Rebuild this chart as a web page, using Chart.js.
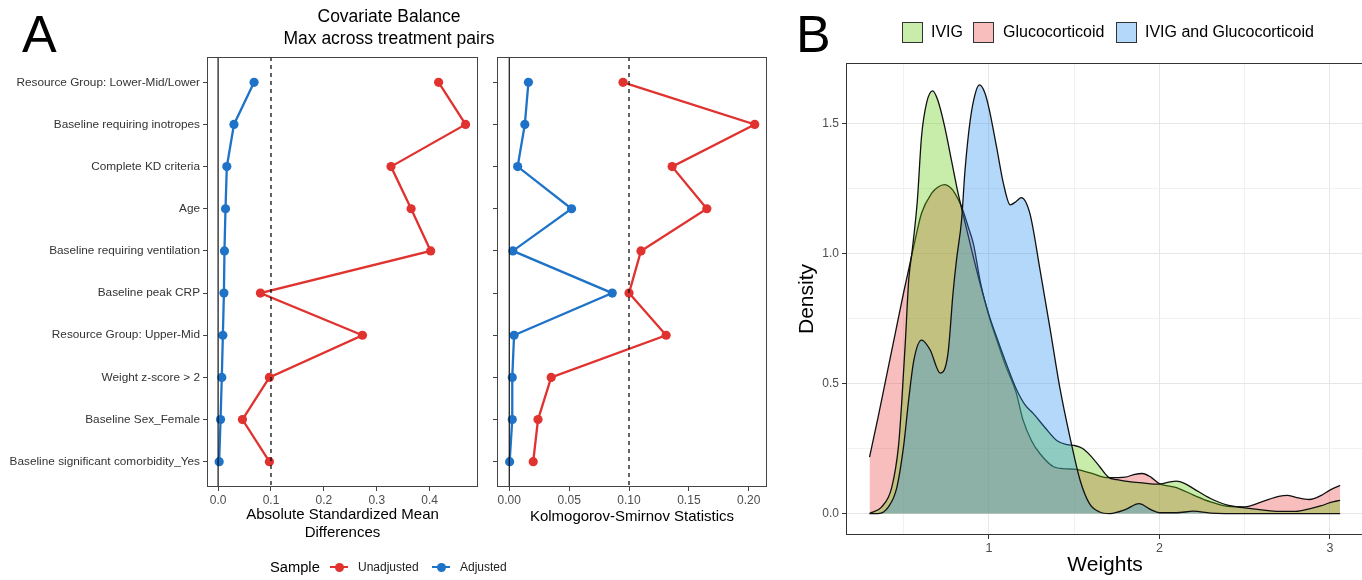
<!DOCTYPE html>
<html>
<head>
<meta charset="utf-8">
<script src="https://cdn.jsdelivr.net/npm/chart.js@4.4.1/dist/chart.umd.min.js"></script>
<style>
html, body { margin: 0; padding: 0; background: #fff; width: 1362px; height: 580px; overflow: hidden; font-family: 'Liberation Sans', Arial, sans-serif; }
canvas { position: absolute; top: 0; }
.t { position: absolute; white-space: nowrap; color: #000; }
.mk { position: absolute; }
</style>
</head>
<body>
<canvas id="smd" width="490" height="580" style="left:0px"></canvas>
<canvas id="ks" width="290" height="580" style="left:485px"></canvas>
<canvas id="dens" width="575" height="580" style="left:795px"></canvas>

<div class="t" style="left:22px;top:8px;font-size:52px;line-height:52px">A</div>
<div class="t" style="left:796px;top:8px;font-size:52px;line-height:52px">B</div>
<div class="t" style="left:259px;top:5px;width:260px;text-align:center;font-size:17.5px;line-height:22px">Covariate Balance<br>Max across treatment pairs</div>

<!-- legend A -->
<div class="t" style="left:270px;top:557px;font-size:14.7px;line-height:20px">Sample</div>
<div class="mk" style="left:330px;top:566px;width:18px;height:2px;background:#e0322f"></div>
<div class="mk" style="left:334.5px;top:562.5px;width:9px;height:9px;border-radius:50%;background:#e0322f"></div>
<div class="t" style="left:358px;top:557px;font-size:12px;line-height:20px;color:#222">Unadjusted</div>
<div class="mk" style="left:432px;top:566px;width:18px;height:2px;background:#1e73c8"></div>
<div class="mk" style="left:436.5px;top:562.5px;width:9px;height:9px;border-radius:50%;background:#1e73c8"></div>
<div class="t" style="left:460px;top:557px;font-size:12px;line-height:20px;color:#222">Adjusted</div>

<!-- legend B -->
<div class="mk" id="lb0" style="left:902px;top:22px;width:19px;height:19px;border:1px solid #333"></div>
<div class="t" style="left:931px;top:21px;font-size:16px;line-height:22px">IVIG</div>
<div class="mk" id="lb1" style="left:973px;top:22px;width:19px;height:19px;border:1px solid #333"></div>
<div class="t" style="left:1003px;top:21px;font-size:16px;line-height:22px">Glucocorticoid</div>
<div class="mk" id="lb2" style="left:1116px;top:22px;width:19px;height:19px;border:1px solid #333"></div>
<div class="t" style="left:1145px;top:21px;font-size:16px;line-height:22px">IVIG and Glucocorticoid</div>

<script>
// ---- panel A data (top to bottom) ----
const categories = [
    'Resource Group: Lower-Mid/Lower',
    'Baseline requiring inotropes',
    'Complete KD criteria',
    'Age',
    'Baseline requiring ventilation',
    'Baseline peak CRP',
    'Resource Group: Upper-Mid',
    'Weight z-score > 2',
    'Baseline Sex_Female',
    'Baseline significant comorbidity_Yes'
];
const smdUnadjusted = [0.417, 0.468, 0.327, 0.365, 0.402, 0.080, 0.273, 0.097, 0.046, 0.097];
const smdAdjusted   = [0.068, 0.030, 0.0165, 0.014, 0.012, 0.011, 0.009, 0.007, 0.0046, 0.002];
const ksUnadjusted  = [0.095, 0.205, 0.136, 0.165, 0.110, 0.100, 0.131, 0.035, 0.024, 0.020];
const ksAdjusted    = [0.016, 0.013, 0.007, 0.052, 0.003, 0.086, 0.004, 0.0025, 0.0025, 0.0003];
const smdTicks = [0, 0.1, 0.2, 0.3, 0.4];
const ksTicks = [0, 0.05, 0.1, 0.15, 0.2];
const threshold = 0.1;

// ---- panel B data (density of weights) ----
const ivigX = [0.30, 0.37, 0.43, 0.47, 0.49, 0.51, 0.53, 0.55, 0.58, 0.605, 0.635, 0.67, 0.70, 0.74, 0.78, 0.82, 0.86, 0.90, 0.95, 1.00, 1.05, 1.10, 1.16, 1.21, 1.26, 1.33, 1.40, 1.46, 1.50, 1.55, 1.60, 1.65, 1.70, 1.75, 1.80, 1.90, 2.00, 2.05, 2.10, 2.15, 2.20, 2.30, 2.40, 2.50, 2.60, 2.70, 2.80, 2.88, 2.95, 3.00, 3.06];
const ivigY = [0.0, 0.025, 0.10, 0.26, 0.44, 0.66, 0.90, 1.01, 1.20, 1.45, 1.58, 1.625, 1.59, 1.49, 1.36, 1.23, 1.12, 1.01, 0.88, 0.765, 0.67, 0.58, 0.48, 0.42, 0.385, 0.33, 0.28, 0.265, 0.262, 0.25, 0.22, 0.18, 0.14, 0.13, 0.125, 0.118, 0.113, 0.12, 0.125, 0.115, 0.096, 0.058, 0.032, 0.022, 0.014, 0.008, 0.008, 0.018, 0.03, 0.042, 0.051];
const glucoX = [0.30, 0.35, 0.40, 0.45, 0.50, 0.53, 0.56, 0.605, 0.665, 0.70, 0.74, 0.78, 0.80, 0.84, 0.88, 0.91, 0.95, 1.00, 1.05, 1.10, 1.16, 1.20, 1.25, 1.30, 1.38, 1.45, 1.51, 1.60, 1.70, 1.80, 1.85, 1.90, 1.95, 2.00, 2.10, 2.20, 2.30, 2.40, 2.50, 2.60, 2.70, 2.75, 2.80, 2.88, 2.95, 3.00, 3.06];
const glucoY = [0.217, 0.37, 0.53, 0.69, 0.85, 0.94, 1.03, 1.155, 1.232, 1.255, 1.265, 1.25, 1.232, 1.18, 1.10, 1.035, 0.89, 0.76, 0.66, 0.565, 0.465, 0.36, 0.28, 0.23, 0.18, 0.172, 0.17, 0.155, 0.138, 0.14, 0.15, 0.154, 0.14, 0.115, 0.10, 0.071, 0.045, 0.028, 0.026, 0.045, 0.066, 0.07, 0.062, 0.054, 0.07, 0.09, 0.108];
const bothX = [0.30, 0.35, 0.41, 0.46, 0.50, 0.53, 0.56, 0.605, 0.655, 0.715, 0.76, 0.79, 0.81, 0.84, 0.86, 0.89, 0.92, 0.945, 0.975, 1.00, 1.045, 1.085, 1.125, 1.16, 1.19, 1.24, 1.30, 1.36, 1.415, 1.475, 1.535, 1.59, 1.65, 1.71, 1.80, 1.88, 1.95, 2.00, 2.10, 2.20, 2.30, 2.50, 3.06];
const bothY = [0.0, 0.0, 0.025, 0.10, 0.26, 0.44, 0.59, 0.667, 0.63, 0.54, 0.615, 0.85, 0.975, 1.13, 1.32, 1.51, 1.615, 1.648, 1.62, 1.56, 1.41, 1.27, 1.187, 1.20, 1.215, 1.155, 0.937, 0.706, 0.488, 0.295, 0.128, 0.038, 0.006, 0.0, 0.015, 0.038, 0.015, 0.003, 0.003, 0.009, 0.002, 0.0, 0.0];
const groupNames = ['IVIG', 'Glucocorticoid', 'IVIG and Glucocorticoid'];
const weightTicks = [0.5, 1, 1.5, 2, 2.5, 3];
const densityTicks = [0, 0.25, 0.5, 0.75, 1, 1.25, 1.5];

const RED = '#e0322f';
const BLUE = '#1e73c8';
const FONT = "'Liberation Sans', Arial, sans-serif";
// fills: IVIG, Glucocorticoid, both (drawn glucocorticoid first, then IVIG, then both)
const fills = ['rgba(98, 201, 12, 0.35)', 'rgba(235, 69, 69, 0.35)', 'rgba(40, 143, 241, 0.35)'];
const drawOrder = [2, 3, 1];

Chart.defaults.font.family = FONT;
Chart.defaults.animation = false;

// panel border (ggplot-style box)
const boxPlugin = {
    id: 'box',
    afterDraw(chart, args, opts) {
        const a = chart.chartArea;
        const ctx = chart.ctx;
        ctx.save();
        ctx.strokeStyle = opts.color || '#333';
        ctx.lineWidth = 1;
        ctx.strokeRect(a.left + 0.5, a.top + 0.5, a.right - a.left - 1, a.bottom - a.top - 1);
        ctx.restore();
    }
};

function toPoints(vals) {
    return vals.map((v, i) => ({x: v, y: i + 1}));
}

function vline(v, dash) {
    return {
        data: [{x: v, y: 0.4}, {x: v, y: categories.length + 0.6}],
        borderColor: '#111',
        borderWidth: dash ? 1.3 : 1.2,
        borderDash: dash ? [4, 4] : [],
        pointRadius: 0
    };
}

// Covariate balance panel
function balanceChart(id, unadj, adj, xMin, xMax, xTicks, digits, title, showLabels, yWidth, xHeight, pad) {
    const ctx = document.getElementById(id).getContext('2d');
    return new Chart(ctx, {
        type: 'line',
        data: {
            datasets: [
                vline(0, false),
                vline(threshold, true),
                {
                    label: 'Adjusted',
                    data: toPoints(adj),
                    borderColor: BLUE,
                    backgroundColor: BLUE,
                    borderWidth: 2.3,
                    pointRadius: 4.6,
                    pointBorderWidth: 0
                },
                {
                    label: 'Unadjusted',
                    data: toPoints(unadj),
                    borderColor: RED,
                    backgroundColor: RED,
                    borderWidth: 2.3,
                    pointRadius: 4.6,
                    pointBorderWidth: 0
                }
            ]
        },
        options: {
            responsive: false,
            layout: {padding: pad},
            plugins: {legend: {display: false}, tooltip: {enabled: false}, box: {color: '#444'}},
            scales: {
                x: {
                    type: 'linear',
                    min: xMin,
                    max: xMax,
                    afterBuildTicks: (s) => { s.ticks = xTicks.map(v => ({value: v})); },
                    afterFit: (s) => { s.height = xHeight; },
                    border: {display: false},
                    grid: {drawOnChartArea: false, tickLength: 4, color: '#444'},
                    ticks: {
                        color: '#4d4d4d',
                        font: {size: 12},
                        padding: 2,
                        maxRotation: 0,
                        callback: (v) => v.toFixed(digits)
                    },
                    title: {display: true, text: title, color: '#000', font: {size: 15, lineHeight: 1.15}, padding: {top: 4, bottom: 4}}
                },
                y: {
                    type: 'linear',
                    min: 0.4,
                    max: categories.length + 0.6,
                    reverse: true,
                    afterBuildTicks: (s) => { s.ticks = categories.map((c, i) => ({value: i + 1})); },
                    afterFit: (s) => { s.width = yWidth; },
                    border: {display: false},
                    grid: {drawOnChartArea: false, tickLength: 4, color: '#444'},
                    ticks: {
                        color: '#333',
                        font: {size: 11.8},
                        padding: 3,
                        autoSkip: false,
                        callback: (v) => showLabels ? categories[v - 1] : ''
                    }
                }
            }
        },
        plugins: [boxPlugin]
    });
}

balanceChart('smd', smdUnadjusted, smdAdjusted, -0.021, 0.4915, smdTicks, 1,
    ['Absolute Standardized Mean', 'Differences'], true, 207, 58, {top: 57, right: 12, bottom: 35, left: 0});
balanceChart('ks', ksUnadjusted, ksAdjusted, -0.01025, 0.21525, ksTicks, 2,
    'Kolmogorov-Smirnov Statistics', false, 12, 42, {top: 57, right: 8, bottom: 51, left: 0});

// ---- density panel ----
function zipXY(xs, ys) {
    return xs.map((x, i) => ({x: x, y: ys[i]}));
}
const densitySeries = [zipXY(ivigX, ivigY), zipXY(glucoX, glucoY), zipXY(bothX, bothY)];

groupNames.forEach((g, i) => {
    document.getElementById('lb' + i).style.background = fills[i];
});

new Chart(document.getElementById('dens').getContext('2d'), {
    type: 'line',
    data: {
        datasets: densitySeries.map((d, i) => ({
            label: groupNames[i],
            data: d,
            order: drawOrder[i],
            borderColor: '#111',
            borderWidth: 1.3,
            backgroundColor: fills[i],
            fill: 'origin',
            pointRadius: 0,
            cubicInterpolationMode: 'monotone'
        }))
    },
    options: {
        responsive: false,
        layout: {padding: {top: 63, right: 6, bottom: 2, left: 0}},
        plugins: {legend: {display: false}, tooltip: {enabled: false}, box: {color: '#333'}},
        scales: {
            x: {
                type: 'linear',
                min: 0.162,
                max: 3.2,
                afterBuildTicks: (s) => { s.ticks = weightTicks.map(v => ({value: v})); },
                afterFit: (s) => { s.height = 43; },
                border: {display: false},
                grid: {
                    color: (c) => Number.isInteger(c.tick.value) ? '#e6e6e6' : '#f1f1f1',
                    tickColor: (c) => Number.isInteger(c.tick.value) ? '#333' : 'rgba(0,0,0,0)',
                    tickLength: 4
                },
                ticks: {
                    color: '#4d4d4d',
                    font: {size: 12.5},
                    padding: 2,
                    maxRotation: 0,
                    callback: (v) => Number.isInteger(v) ? String(v) : ''
                },
                title: {display: true, text: 'Weights', color: '#000', font: {size: 21}, padding: {top: 0, bottom: 0}}
            },
            y: {
                type: 'linear',
                min: -0.0825,
                max: 1.7325,
                afterBuildTicks: (s) => { s.ticks = densityTicks.map(v => ({value: v})); },
                afterFit: (s) => { s.width = 51; },
                border: {display: false},
                grid: {
                    color: (c) => (c.tick.value * 2) % 1 === 0 ? '#e6e6e6' : '#f1f1f1',
                    tickColor: (c) => (c.tick.value * 2) % 1 === 0 ? '#333' : 'rgba(0,0,0,0)',
                    tickLength: 4
                },
                ticks: {
                    color: '#4d4d4d',
                    font: {size: 12},
                    padding: 3,
                    callback: (v) => (v * 2) % 1 === 0 ? v.toFixed(1) : ''
                },
                title: {display: true, text: 'Density', color: '#000', font: {size: 21}, padding: {top: 0, bottom: 0}}
            }
        }
    },
    plugins: [boxPlugin]
});
</script>
</body>
</html>
